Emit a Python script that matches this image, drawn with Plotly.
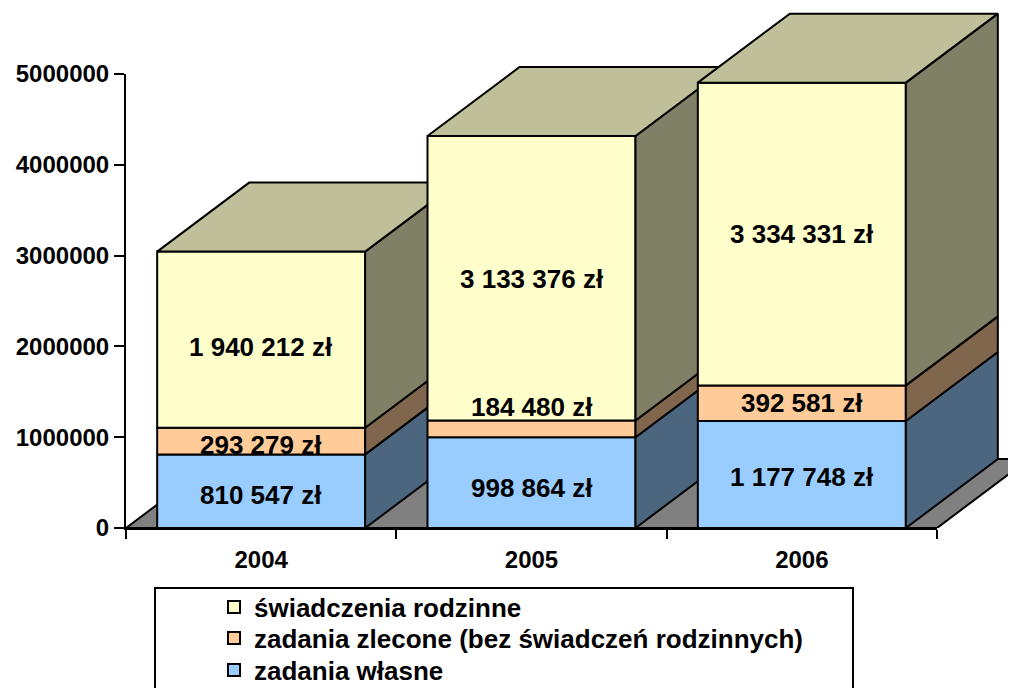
import plotly.graph_objects as go

# ---------------- data ----------------
years = ["2004", "2005", "2006"]
zadania_wlasne = [810547, 998864, 1177748]
zadania_zlecone = [293279, 184480, 392581]
swiadczenia_rodzinne = [1940212, 3133376, 3334331]
y_tick_values = [0, 1000000, 2000000, 3000000, 4000000, 5000000]

series_names = ["zadania własne", "zadania zlecone (bez świadczeń rodzinnych)", "świadczenia rodzinne"]
series_values = [zadania_wlasne, zadania_zlecone, swiadczenia_rodzinne]

# ---------------- styles ----------------
front_colors = ["#99CCFF", "#FFCC99", "#FFFFCC"]
side_colors = ["#4D6680", "#80664D", "#808066"]
top_color = "#BFBF99"
floor_color = "#808080"
# label vertical nudges (px) per series (rows) per year (cols)
label_yshift = [[-4, -5, -2], [-4, 22, 0], [-7, -1, 0]]
# legend rows (page y of each row centre), top to bottom
legend_row_y = [607, 638, 670]

FONT = "Liberation Sans, Arial, sans-serif"

W, H = 1016, 688
OFF = 8                              # page offset of the figure (body margin)
# layout anchors in page pixels
X_AXIS_L, X_AXIS_R = 126 - OFF, 937 - OFF
Y_ZERO, Y_TOP_TICK = 528 - OFF, 74 - OFF
cat_px = (X_AXIS_R - X_AXIS_L) / len(years)
px_per_unit = (Y_ZERO - Y_TOP_TICK) / max(y_tick_values)

x_range = [-X_AXIS_L / cat_px, (W - X_AXIS_L) / cat_px]
y_range = [0, Y_ZERO / px_per_unit]

DX = 92 / cat_px
DY = 69 / px_per_unit
BAR_W = 208 / cat_px


def poly(xs, ys, color):
    return go.Scatter(
        x=xs + [xs[0]], y=ys + [ys[0]], mode="lines", fill="toself",
        fillcolor=color, line=dict(color="black", width=2),
        hoverinfo="skip", showlegend=False,
    )


fig = go.Figure()

n = len(years)
# floor
fig.add_trace(poly([0, n, n + DX, DX], [0, 0, DY, DY], floor_color))

annotations = []
for i, yr in enumerate(years):
    c = i + 0.5
    x0, x1 = c - BAR_W / 2, c + BAR_W / 2
    segs = []
    base = 0
    for s, vals in enumerate(series_values):
        top = base + vals[i]
        segs.append((base, top))
        base = top
    # fronts
    for s, (lo, hi) in enumerate(segs):
        fig.add_trace(poly([x0, x1, x1, x0], [lo, lo, hi, hi], front_colors[s]))
    # sides
    for s, (lo, hi) in enumerate(segs):
        fig.add_trace(poly([x1, x1 + DX, x1 + DX, x1], [lo, lo + DY, hi + DY, hi], side_colors[s]))
    # top
    T = segs[-1][1]
    fig.add_trace(poly([x0, x1, x1 + DX, x0 + DX], [T, T, T + DY, T + DY], top_color))
    # labels
    for s, (lo, hi) in enumerate(segs):
        txt = f"{series_values[s][i]:,}".replace(",", " ") + " zł"
        annotations.append(dict(
            x=c, y=(lo + hi) / 2, xref="x", yref="y", text=txt, showarrow=False,
            yshift=label_yshift[s][i],
            font=dict(family=FONT, size=26, color="black", weight="bold"),
        ))

plot_h = Y_ZERO  # main plot area height (t=0)


def py(page_y):
    return (plot_h - (page_y - OFF)) / plot_h


def px(page_x):
    return (page_x - OFF) / W


# legend-only traces (order as in the reference legend), one legend per row
legend_layouts = {}
for row, s in enumerate([2, 1, 0]):
    lname = "legend" if row == 0 else f"legend{row + 1}"
    fig.add_trace(go.Bar(
        x=[None], y=[None], name=series_names[s], legend=lname,
        marker=dict(color=front_colors[s], line=dict(color="black", width=2)),
        hoverinfo="skip",
    ))
    legend_layouts[lname] = dict(
        x=px(214), y=py(legend_row_y[row]), xanchor="left", yanchor="middle",
        bgcolor="rgba(0,0,0,0)", borderwidth=0,
        font=dict(family=FONT, size=26, color="black", weight="bold"),
    )

# helper trace to create the axis subplot
fig.add_trace(go.Scatter(x=[None], y=[None], xaxis="x2", yaxis="y2",
                         showlegend=False, hoverinfo="skip"))

fig.update_layout(
    width=W, height=H,
    margin=dict(l=0, r=0, t=0, b=H - Y_ZERO, autoexpand=False),
    paper_bgcolor="white", plot_bgcolor="rgba(0,0,0,0)",
    showlegend=True,
    xaxis=dict(range=x_range, visible=False, type="linear", fixedrange=True),
    yaxis=dict(range=y_range, visible=False, type="linear", fixedrange=True),
    xaxis2=dict(
        domain=[X_AXIS_L / W, X_AXIS_R / W], range=[0, n], anchor="y2",
        showline=True, linecolor="black", linewidth=2, showgrid=False, zeroline=False,
        tickmode="array", tickvals=[i + 0.5 for i in range(n)], ticktext=years,
        ticks="outside", ticklen=9, tickcolor="rgba(0,0,0,0)",
        tickfont=dict(family=FONT, size=24, color="black", weight="bold"),
        minor=dict(tick0=0, dtick=1, ticks="outside", ticklen=9, tickwidth=2, tickcolor="black"),
    ),
    yaxis2=dict(
        domain=[0, (Y_ZERO - Y_TOP_TICK) / plot_h], range=[0, max(y_tick_values)], anchor="x2",
        showline=True, linecolor="black", linewidth=2, showgrid=False, zeroline=False,
        tickmode="array", tickvals=y_tick_values, tickformat="d",
        ticks="outside", ticklen=10, tickwidth=2, tickcolor="black",
        tickfont=dict(family=FONT, size=24, color="black", weight="bold"),
    ),
    annotations=annotations,
    shapes=[dict(
        type="rect", xref="paper", yref="paper",
        x0=px(155), x1=px(853), y0=py(588), y1=py(720),
        line=dict(color="black", width=2), fillcolor="rgba(0,0,0,0)",
    )],
    **legend_layouts,
)

fig.write_html("out.html")
